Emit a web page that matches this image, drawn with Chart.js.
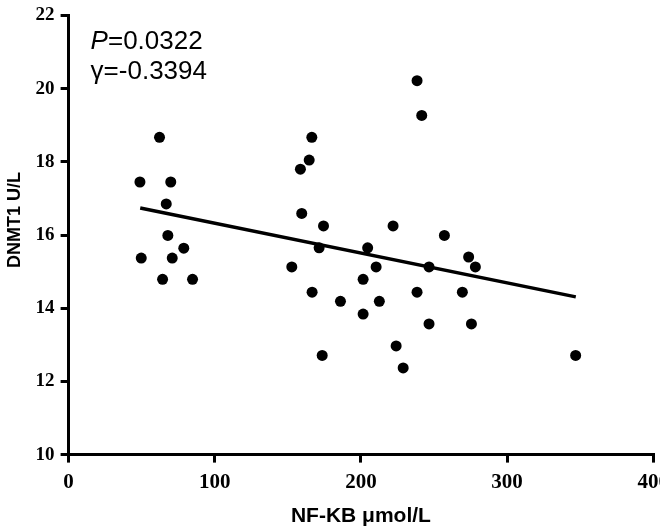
<!DOCTYPE html>
<html>
<head>
<meta charset="utf-8">
<script src="https://cdn.jsdelivr.net/npm/chart.js@4/dist/chart.umd.min.js"></script>
<style>
  html, body { margin: 0; padding: 0; background: #fff; overflow: hidden; }
  #wrap { width: 676px; height: 529px; position: relative; }
</style>
</head>
<body>
<div id="wrap"><canvas id="c"></canvas></div>
<script>
// NF-KB (µmol/L) values
const nfkb = [48.8, 69.9, 66.8, 67.9, 78.8, 49.7, 70.9, 64.3, 84.8, 62.2,
  166.4, 164.6, 158.6, 159.5, 174.4, 171.4, 152.7,
  204.6, 210.4, 201.5, 166.6, 186.0, 201.5, 212.6, 173.5,
  222.0, 257.1, 246.6, 273.7, 278.3, 238.4, 269.4, 246.6, 275.6, 224.1, 228.9, 346.9,
  238.4, 241.6];
// DNMT1 (U/L) values
const dnmt1 = [17.45, 17.45, 16.85, 15.99, 15.64, 15.37, 15.37, 14.79, 14.79, 18.67,
  18.67, 18.05, 17.80, 16.59, 16.25, 15.65, 15.13,
  15.65, 15.13, 14.79, 14.44, 14.19, 13.84, 14.19, 12.71,
  16.25, 15.99, 15.13, 15.40, 15.13, 14.44, 14.44, 13.57, 13.57, 12.97, 12.37, 12.71,
  20.22, 19.27];
// Fitted line end points as drawn in the picture
const trendX = [49, 347];
const trendY = [16.74, 14.31];
// Annotation texts
const pLabel = "P";
const pValue = "=0.0322";
const rText = "\u03b3=-0.3394";
const xTitle = "NF-KB \u03bcmol/L";
const yTitle = "      DNMT1 U/L";

const points = nfkb.map((x, i) => ({ x: x, y: dnmt1[i] }));
const trend = trendX.map((x, i) => ({ x: x, y: trendY[i] }));

const annotate = {
  id: 'annotate',
  afterDatasetsDraw(chart) {
    const ctx = chart.ctx;
    const a = chart.chartArea;
    ctx.save();
    ctx.fillStyle = '#000';
    ctx.textBaseline = 'alphabetic';
    ctx.textAlign = 'left';
    const x0 = a.left + 22;
    ctx.font = 'italic 26px "Liberation Sans", Arial, sans-serif';
    ctx.fillText(pLabel, x0, a.top + 33);
    const w = ctx.measureText(pLabel).width;
    ctx.font = '26px "Liberation Sans", Arial, sans-serif';
    ctx.fillText(pValue, x0 + w, a.top + 33);
    ctx.fillText(rText, x0, a.top + 63);
    ctx.restore();
  }
};

new Chart(document.getElementById('c'), {
  type: 'scatter',
  data: {
    datasets: [
      {
        data: points,
        backgroundColor: '#000',
        borderColor: '#000',
        pointRadius: 5.5,
        pointHoverRadius: 5.5,
        borderWidth: 0
      },
      {
        type: 'line',
        data: trend,
        borderColor: '#000',
        borderWidth: 3.5,
        pointRadius: 0,
        fill: false,
        tension: 0
      }
    ]
  },
  options: {
    responsive: true,
    maintainAspectRatio: false,
    animation: false,
    layout: { padding: { left: 2, top: -10, right: 0, bottom: 0 } },
    plugins: { legend: { display: false }, tooltip: { enabled: false } },
    scales: {
      x: {
        type: 'linear',
        min: 0, max: 400,
        ticks: {
          stepSize: 100,
          color: '#000',
          padding: 7,
          font: { family: '"Liberation Serif", "Times New Roman", serif', weight: 'bold', size: 21 }
        },
        grid: { display: true, drawOnChartArea: false, drawTicks: true, tickLength: 8, lineWidth: 3, color: '#000' },
        border: { display: true, width: 3, color: '#000' },
        title: {
          display: true,
          text: xTitle,
          color: '#000',
          padding: { top: 2, bottom: 0 },
          font: { family: '"Liberation Sans", Arial, sans-serif', weight: 'bold', size: 21 }
        }
      },
      y: {
        min: 10, max: 22,
        ticks: {
          stepSize: 2,
          color: '#000',
          padding: 6,
          font: { family: '"Liberation Serif", "Times New Roman", serif', weight: 'bold', size: 19, lineHeight: 1 }
        },
        grid: { display: true, drawOnChartArea: false, drawTicks: true, tickLength: 8, lineWidth: 3, color: '#000' },
        border: { display: true, width: 3, color: '#000' },
        title: {
          display: true,
          text: yTitle,
          color: '#000',
          padding: { top: 2, bottom: 4 },
          font: { family: '"Liberation Sans", Arial, sans-serif', weight: 'bold', size: 18 }
        }
      }
    }
  },
  plugins: [annotate]
});
</script>
</body>
</html>
